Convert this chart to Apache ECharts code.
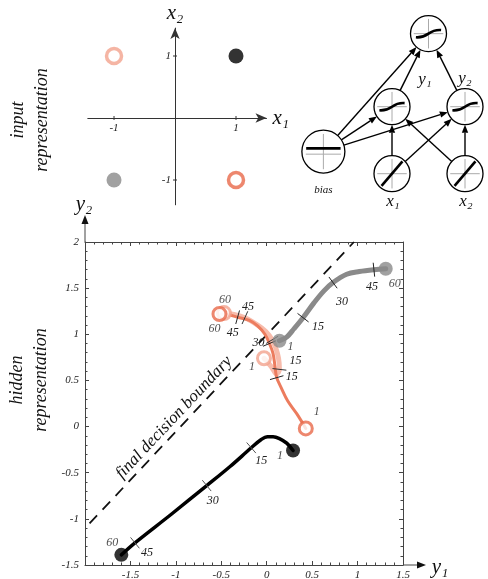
<!DOCTYPE html>
<html><head><meta charset="utf-8">
<script src="https://cdn.jsdelivr.net/npm/echarts@6/dist/echarts.min.js"></script>
<style>html,body{margin:0;padding:0;background:#fff}#c{width:488px;height:579px}</style>
</head><body><div id="c"></div>
<script>
// ================= DATA =================
// input representation (XOR inputs)
const inputPoints = [[-1, 1], [1, 1], [-1, -1], [1, -1]];
const inputTickValues = [-1, 1];
// hidden representation
const boundaryLine = [[-1.95, -1.05], [0.96, 2.0]];
const blackPath = [[0.29,-0.26],[0.22,-0.18],[0.14,-0.13],[0.07,-0.11],[0.01,-0.11],[-0.06,-0.14],[-0.17,-0.23],[-0.40,-0.43],[-0.66,-0.64],[-1.05,-0.95],[-1.45,-1.26],[-1.60,-1.39]];
const grayPath = [[0.14,0.93],[0.22,0.97],[0.30,1.06],[0.40,1.18],[0.52,1.34],[0.63,1.47],[0.73,1.56],[0.88,1.65],[1.02,1.68],[1.18,1.70],[1.31,1.71]];
const salmonDarkPath = [[0.43,-0.02],[0.33,0.14],[0.23,0.28],[0.16,0.42],[0.11,0.53],[0.09,0.66],[0.07,0.79],[0.03,0.90],[-0.02,1.00],[-0.10,1.09],[-0.19,1.15],[-0.32,1.185],[-0.41,1.21],[-0.52,1.22]];
const salmonLightPath = [[-0.03,0.74],[0.05,0.65],[0.11,0.57],[0.14,0.62],[0.13,0.74],[0.10,0.85],[0.06,0.94],[-0.01,1.03],[-0.10,1.10],[-0.24,1.18],[-0.36,1.215],[-0.47,1.23]];
// epoch ticks [y1, y2, epoch]
const blackTicks = [[-0.17,-0.23,15],[-0.66,-0.64,30],[-1.45,-1.26,45]];
const grayTicks = [[0.40,1.18,15],[0.73,1.56,30],[1.18,1.70,45]];
const salmonDarkTicks = [[0.11,0.53,15],[0.03,0.90,30],[-0.32,1.185,45]];
const salmonLightTicks = [[0.14,0.62,15],[0.06,0.94,30],[-0.24,1.18,45]];
// start / end epochs [y1, y2, epoch]
const blackEnds = [[0.29,-0.26,1],[-1.60,-1.39,60]];
const grayEnds = [[0.14,0.93,1],[1.31,1.71,60]];
const salmonDarkEnds = [[0.43,-0.02,1],[-0.52,1.22,60]];
const salmonLightEnds = [[-0.03,0.74,1],[-0.47,1.23,60]];
// network diagram: [id, column, layer, kind, label]
const netNodes = [
  ['out', 1.5, 3.09, 'sigmoid', ''],
  ['h1', 1, 2, 'sigmoid', 'y\u2081'],
  ['h2', 2, 2, 'sigmoid', 'y\u2082'],
  ['bias', 0.06, 1.33, 'const', 'bias'],
  ['x1', 1, 1, 'linear', 'x\u2081'],
  ['x2', 2, 1, 'linear', 'x\u2082']
];
const netEdges = [['bias','out'],['bias','h1'],['bias','h2'],['x1','h1'],['x1','h2'],['x2','h2'],['x2','h1'],['h1','out'],['h2','out']];

// ================= STYLE =================
const SERIF = '"Liberation Serif","DejaVu Serif",serif';
const C_DARK = '#ec7c5e', C_DARK_RING = '#e9694a';
const C_LIGHT = '#f7bcac', C_LIGHT_RING = '#f3a28d';
const C_GRAY = '#8a8a8a';
const inputStyles = [
  {color:'#fff', borderColor:C_LIGHT_RING, borderWidth:3.5},
  {color:'#000'},
  {color:C_GRAY},
  {color:'#fff', borderColor:C_DARK_RING, borderWidth:3.5}
];
const blackTickOff = [[10,13],[6,15],[12,10]];
const grayTickOff = [[15,9],[9,19],[-2,17]];
const darkTickOff = [[15,-1],[-11,-1],[-5,16]];
const lightTickOff = [[16,-9],null,[3,-11]];
const blackEndOff = [[-13,5],[-9,-12]];
const grayEndOff = [[11,6],[9,15]];
const darkEndOff = [[11,-17],[-5,15]];
const lightEndOff = [[-12,9],[1,-13]];
const nodeLabelOff = {h1:[33,-27], h2:[0,-28], bias:[0,39], x1:[1,28], x2:[1,28], out:[0,0]};
const nodeR = {bias:21.5};

const axisCol = '#444';
const lblStyle = {fontFamily:SERIF, fontStyle:'italic', fontSize:11, color:'#222'};

function tickSeries(path, ticks, offs, color) {
  const data = ticks.map(t => {
    let best = 0, bd = 1e9;
    path.forEach((p, i) => { const d = (p[0]-t[0])**2 + (p[1]-t[1])**2; if (d < bd) { bd = d; best = i; } });
    const a = path[Math.max(0, best-1)], b = path[Math.min(path.length-1, best+1)];
    return [t[0], t[1], a[0], a[1], b[0], b[1], t[2]];
  });
  return {
    type:'custom', xAxisIndex:0, yAxisIndex:0, data, z:6, silent:true,
    encode:{x:0, y:1},
    renderItem(params, api) {
      const p = api.coord([api.value(0), api.value(1)]);
      const a = api.coord([api.value(2), api.value(3)]);
      const b = api.coord([api.value(4), api.value(5)]);
      let dx = b[0]-a[0], dy = b[1]-a[1];
      const L = Math.hypot(dx, dy) || 1; dx /= L; dy /= L;
      const nx = -dy, ny = dx, h = 7;
      const children = [{type:'line', shape:{x1:p[0]-nx*h, y1:p[1]-ny*h, x2:p[0]+nx*h, y2:p[1]+ny*h}, style:{stroke:color, lineWidth:1}}];
      const off = offs[params.dataIndex];
      if (off) children.push({type:'text', style:{text:String(api.value(6)), x:p[0]+off[0], y:p[1]+off[1], align:'center', verticalAlign:'middle', font:'italic 12px ' + SERIF, fill:'#222'}});
      return {type:'group', children};
    }
  };
}
function endSeries(ends, offs, itemStyle, size) {
  return {
    type:'scatter', xAxisIndex:0, yAxisIndex:0, z:7, symbolSize:size, itemStyle, silent:true,
    data: ends.map((e, i) => ({value:e, label:{show:true, position:'inside', offset:offs[i], formatter:String(e[2]), fontFamily:SERIF, fontStyle:'italic', fontSize:12, color:'#222'}}))
  };
}
function pathSeries(path, color, width, z) {
  return {type:'line', xAxisIndex:0, yAxisIndex:0, data:path, smooth:0.35, showSymbol:false, silent:true, z, lineStyle:{color, width, cap:'round', join:'round'}};
}

const nodeMap = {};
netNodes.forEach(n => nodeMap[n[0]] = n);
const edgeData = netEdges.map(e => { const a = nodeMap[e[0]], b = nodeMap[e[1]]; return [a[1], a[2], b[1], b[2], nodeR[a[0]]||18, nodeR[b[0]]||18]; });
// input-plot tick labels: [x, y, axis(0=x,1=y)]
const inputTickData = inputTickValues.map(v => [v, 0, 0]).concat(inputTickValues.map(v => [0, v, 1]));

const option = {
  animation:false,
  grid:[
    {left:85, top:242, width:318, height:323, outerBoundsMode:'none'},
    {left:87.8, top:28.1, width:178.7, height:176.7, outerBoundsMode:'none'},
    {left:319, top:106.7, width:146, height:67, outerBoundsMode:'none'}
  ],
  xAxis:[
    {gridIndex:0, type:'value', min:-2, max:1.5, interval:0.5,
     axisLine:{onZero:false, lineStyle:{color:axisCol, width:1}},
     axisTick:{inside:true, length:4, lineStyle:{color:axisCol}},
     minorTick:{show:true, splitNumber:5, length:2.5, lineStyle:{color:axisCol}},
     splitLine:{show:false},
     axisLabel:Object.assign({margin:5, formatter:v => v === -2 ? '' : String(v)}, lblStyle)},
    {gridIndex:0, type:'value', position:'top', min:-2, max:1.5, interval:0.5,
     axisLine:{onZero:false, lineStyle:{color:axisCol, width:1}},
     axisTick:{inside:true, length:4, lineStyle:{color:axisCol}},
     minorTick:{show:true, splitNumber:5, length:2.5, lineStyle:{color:axisCol}},
     splitLine:{show:false}, axisLabel:{show:false}},
    {gridIndex:1, type:'value', min:-1.43, max:1.5,
     axisLine:{onZero:true, symbol:['none','arrow'], symbolSize:[7,11], lineStyle:{color:'#333', width:1}},
     axisTick:{show:false}, axisLabel:{show:false},
     splitLine:{show:false},
     name:'x\u2081', nameLocation:'end', nameGap:6,
     nameTextStyle:{fontFamily:SERIF, fontStyle:'italic', fontSize:21, color:'#111'}},
    {gridIndex:2, type:'value', min:0, max:2, show:false}
  ],
  yAxis:[
    {gridIndex:0, type:'value', min:-1.5, max:2, interval:0.5,
     axisLine:{show:true, onZero:false, lineStyle:{color:axisCol, width:1}},
     axisTick:{show:true, inside:true, length:4, lineStyle:{color:axisCol}},
     minorTick:{show:true, splitNumber:5, length:2.5, lineStyle:{color:axisCol}},
     splitLine:{show:false},
     axisLabel:Object.assign({margin:6}, lblStyle)},
    {gridIndex:0, type:'value', position:'right', min:-1.5, max:2, interval:0.5,
     axisLine:{show:true, onZero:false, lineStyle:{color:axisCol, width:1}},
     axisTick:{show:true, inside:true, length:4, lineStyle:{color:axisCol}},
     minorTick:{show:true, splitNumber:5, length:2.5, lineStyle:{color:axisCol}},
     splitLine:{show:false}, axisLabel:{show:false}},
    {gridIndex:1, type:'value', min:-1.4, max:1.45,
     axisLine:{show:true, onZero:true, symbol:['none','arrow'], symbolSize:[7,11], lineStyle:{color:'#333', width:1}},
     axisTick:{show:false}, axisLabel:{show:false},
     splitLine:{show:false},
     name:'x\u2082', nameLocation:'end', nameGap:4,
     nameTextStyle:{fontFamily:SERIF, fontStyle:'italic', fontSize:21, color:'#111'}},
    {gridIndex:2, type:'value', min:1, max:2, show:false}
  ],
  series:[
    {type:'line', xAxisIndex:0, yAxisIndex:0, data:boundaryLine, showSymbol:false, silent:true, z:2,
     lineStyle:{color:'#111', width:1.8, type:[11,8]}},
    pathSeries(salmonLightPath, C_LIGHT, 5, 3),
    pathSeries(salmonDarkPath, C_DARK, 3, 4),
    pathSeries(grayPath, C_GRAY, 5, 4),
    pathSeries(blackPath, '#000', 3.5, 4),
    tickSeries(blackPath, blackTicks, blackTickOff, '#555'),
    tickSeries(grayPath, grayTicks, grayTickOff, '#222'),
    tickSeries(salmonDarkPath, salmonDarkTicks, darkTickOff, '#222'),
    tickSeries(salmonLightPath, salmonLightTicks, lightTickOff, '#333'),
    endSeries(salmonLightEnds, lightEndOff, {color:'#fff', borderColor:C_LIGHT_RING, borderWidth:3}, 13),
    endSeries(salmonDarkEnds, darkEndOff, {color:'#fff', borderColor:C_DARK_RING, borderWidth:3}, 13),
    endSeries(grayEnds, grayEndOff, {color:C_GRAY}, 14),
    endSeries(blackEnds, blackEndOff, {color:'#000'}, 14),
    {type:'scatter', xAxisIndex:2, yAxisIndex:2, symbolSize:15, silent:true,
     data:inputPoints.map((p, i) => ({value:p, itemStyle:inputStyles[i]}))},
    {type:'custom', xAxisIndex:2, yAxisIndex:2, silent:true, data:inputTickData, encode:{x:0, y:1},
     renderItem(params, api) {
       const p = api.coord([api.value(0), api.value(1)]);
       const isX = api.value(2) === 0;
       const v = isX ? api.value(0) : api.value(1);
       return {type:'group', children:[
         isX ? {type:'line', shape:{x1:p[0], y1:p[1]-2, x2:p[0], y2:p[1]+2}, style:{stroke:'#333', lineWidth:1}}
             : {type:'line', shape:{x1:p[0]-2, y1:p[1], x2:p[0]+2, y2:p[1]}, style:{stroke:'#333', lineWidth:1}},
         {type:'text', style:{text:String(v), x:isX ? p[0] : p[0]-4, y:isX ? p[1]+10 : p[1], align:isX ? 'center' : 'right', verticalAlign:'middle', font:'italic 11px ' + SERIF, fill:'#222'}}
       ]};
     }},
    {type:'custom', xAxisIndex:3, yAxisIndex:3, data:edgeData, silent:true, z:2, encode:{x:0, y:1},
     renderItem(params, api) {
       const a = api.coord([api.value(0), api.value(1)]);
       const b = api.coord([api.value(2), api.value(3)]);
       const ra = api.value(4), rb = api.value(5);
       let dx = b[0]-a[0], dy = b[1]-a[1]; const L = Math.hypot(dx, dy); dx /= L; dy /= L;
       const s = [a[0]+dx*ra, a[1]+dy*ra], t = [b[0]-dx*rb, b[1]-dy*rb];
       const al = 8, aw = 3.2;
       const base = [t[0]-dx*al, t[1]-dy*al];
       return {type:'group', children:[
         {type:'line', shape:{x1:s[0], y1:s[1], x2:base[0], y2:base[1]}, style:{stroke:'#000', lineWidth:1.4}},
         {type:'polygon', shape:{points:[t, [base[0]-dy*aw, base[1]+dx*aw], [base[0]+dy*aw, base[1]-dx*aw]]}, style:{fill:'#000'}}
       ]};
     }},
    {type:'custom', xAxisIndex:3, yAxisIndex:3, silent:true, z:3, encode:{x:1, y:2},
     data:netNodes.map(n => [n[0], n[1], n[2], n[3], n[4]]),
     dimensions:[{name:'id', type:'ordinal'}, 'x', 'y', {name:'kind', type:'ordinal'}, {name:'label', type:'ordinal'}],
     renderItem(params, api) {
       const n = netNodes[params.dataIndex];
       const c = api.coord([n[1], n[2]]);
       const r = nodeR[n[0]] || 18;
       const cx = c[0], cy = c[1];
       const kids = [
         {type:'circle', shape:{cx, cy, r}, style:{fill:'#fff', stroke:'#000', lineWidth:1.3}}
       ];
       const gy = n[3] === 'const' ? cy + r*0.12 : cy;
       kids.push({type:'line', shape:{x1:cx-r*0.82, y1:gy, x2:cx+r*0.82, y2:gy}, style:{stroke:'#aaa', lineWidth:1}});
       kids.push({type:'line', shape:{x1:cx, y1:cy-r*0.82, x2:cx, y2:cy+r*0.82}, style:{stroke:'#aaa', lineWidth:1}});
       if (n[3] === 'sigmoid') {
         kids.push({type:'bezierCurve', shape:{x1:cx-r*0.7, y1:cy+r*0.2, cpx1:cx+r*0.05, cpy1:cy+r*0.26, cpx2:cx-r*0.05, cpy2:cy-r*0.26, x2:cx+r*0.7, y2:cy-r*0.2}, style:{stroke:'#000', lineWidth:2.6, fill:null}});
       } else if (n[3] === 'linear') {
         kids.push({type:'line', shape:{x1:cx-r*0.58, y1:cy+r*0.68, x2:cx+r*0.58, y2:cy-r*0.68}, style:{stroke:'#000', lineWidth:2.6}});
       } else {
         kids.push({type:'line', shape:{x1:cx-r*0.8, y1:cy-r*0.15, x2:cx+r*0.8, y2:cy-r*0.15}, style:{stroke:'#000', lineWidth:2.6}});
       }
       if (n[4]) {
         const o = nodeLabelOff[n[0]];
         const fs = n[0] === 'bias' ? 11 : 17;
         kids.push({type:'text', style:{text:n[4], x:cx+o[0], y:cy+o[1], align:'center', verticalAlign:'middle', font:'italic ' + fs + 'px ' + SERIF, fill:'#111'}});
       }
       return {type:'group', children:kids};
     }}
  ]
};

const chart = echarts.init(document.getElementById('c'), null, {renderer:'canvas'});
chart.setOption(option);

// decorations tied to the main plot's scales
const tl = chart.convertToPixel({gridIndex:0}, [-2, 2]);
const br = chart.convertToPixel({gridIndex:0}, [1.5, -1.5]);
const b0 = chart.convertToPixel({gridIndex:0}, boundaryLine[0]);
const b1 = chart.convertToPixel({gridIndex:0}, boundaryLine[1]);
const ux = (b1[0]-b0[0]), uy = (b1[1]-b0[1]); const uL = Math.hypot(ux, uy);
const f = 0.35, tcx = b0[0] + ux*f + (uy/uL)*11, tcy = b0[1] + uy*f - (ux/uL)*11;
const ang = Math.atan2(-(uy), ux);
chart.setOption({graphic:[
  {type:'line', shape:{x1:tl[0], y1:tl[1], x2:tl[0], y2:tl[1]-20}, style:{stroke:axisCol, lineWidth:1}, silent:true},
  {type:'polygon', shape:{points:[[tl[0], tl[1]-27], [tl[0]-3.5, tl[1]-18], [tl[0]+3.5, tl[1]-18]]}, style:{fill:'#111'}, silent:true},
  {type:'text', x:tl[0]-1, y:tl[1]-38, style:{text:'y\u2082', font:'italic 21px ' + SERIF, fill:'#111', align:'center', verticalAlign:'middle'}, silent:true},
  {type:'line', shape:{x1:br[0], y1:br[1], x2:br[0]+16, y2:br[1]}, style:{stroke:axisCol, lineWidth:1}, silent:true},
  {type:'polygon', shape:{points:[[br[0]+23, br[1]], [br[0]+14, br[1]-3.5], [br[0]+14, br[1]+3.5]]}, style:{fill:'#111'}, silent:true},
  {type:'text', x:br[0]+37, y:br[1]+2, style:{text:'y\u2081', font:'italic 21px ' + SERIF, fill:'#111', align:'center', verticalAlign:'middle'}, silent:true},
  {type:'text', x:tcx, y:tcy, rotation:ang, style:{text:'final decision boundary', font:'italic 17px ' + SERIF, fill:'#111', align:'center', verticalAlign:'middle'}, silent:true},
  {type:'text', x:30, y:120, rotation:Math.PI/2, style:{text:'input\nrepresentation', font:'italic 18px ' + SERIF, lineHeight:24, fill:'#111', align:'center', verticalAlign:'middle'}, silent:true},
  {type:'text', x:29, y:380, rotation:Math.PI/2, style:{text:'hidden\nrepresentation', font:'italic 18px ' + SERIF, lineHeight:24, fill:'#111', align:'center', verticalAlign:'middle'}, silent:true}
]});
</script>
</body></html>
